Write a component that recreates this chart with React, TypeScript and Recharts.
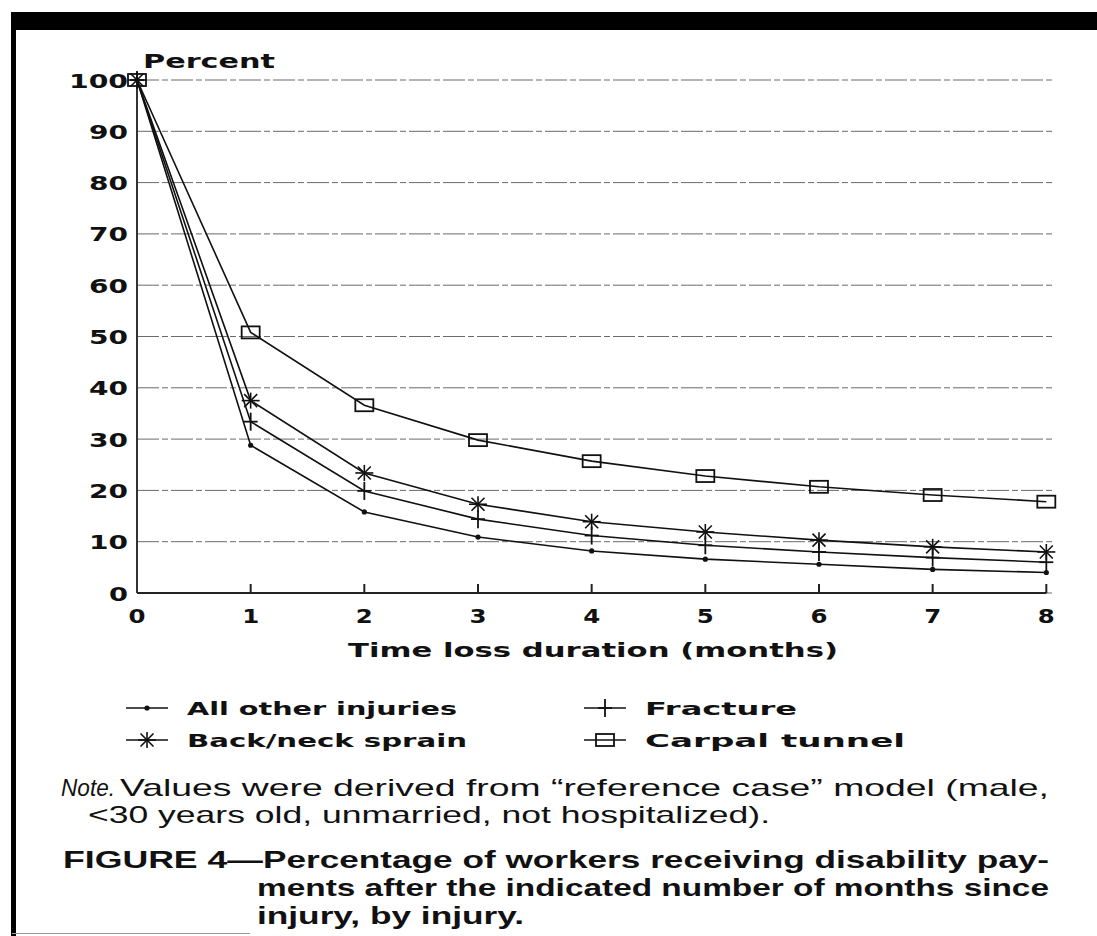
import { LineChart, Line, XAxis, YAxis, CartesianGrid, ReferenceLine } from 'recharts';

// months since injury
const months = [0, 1, 2, 3, 4, 5, 6, 7, 8];
const allOther = [100, 28.8, 15.8, 10.9, 8.2, 6.6, 5.6, 4.6, 4.0];
const fracture = [100, 33.4, 19.9, 14.4, 11.2, 9.3, 8.0, 6.9, 6.0];
const backNeck = [100, 37.5, 23.4, 17.3, 13.9, 11.9, 10.3, 9.0, 8.0];
const carpal = [100, 50.8, 36.6, 29.8, 25.7, 22.8, 20.7, 19.1, 17.8];
const yTicks = [0, 10, 20, 30, 40, 50, 60, 70, 80, 90, 100];

const data = months.map((m, i) => ({ m, allOther: allOther[i], fracture: fracture[i], backNeck: backNeck[i], carpal: carpal[i] }));

const INK = '#111';
const wide = 'DejaVu Sans, Verdana, sans-serif';
const narrow = '"Liberation Sans Narrow", "Liberation Sans", Arial, sans-serif';

type Shape = 'dot' | 'plus' | 'star' | 'square';

function Marker({ shape, cx, cy }: { shape: Shape; cx: number; cy: number }) {
  if (shape === 'dot') return <circle cx={cx} cy={cy} r={2.6} fill={INK} />;
  if (shape === 'plus') return (
    <g stroke={INK} strokeWidth={1.8}>
      <line x1={cx} y1={cy - 9} x2={cx} y2={cy + 9} />
      <line x1={cx - 7} y1={cy} x2={cx + 7} y2={cy} />
    </g>
  );
  if (shape === 'star') return (
    <g stroke={INK} strokeWidth={1.6}>
      <line x1={cx} y1={cy - 8} x2={cx} y2={cy + 8} />
      <line x1={cx - 9} y1={cy} x2={cx + 9} y2={cy} />
      <line x1={cx - 6.5} y1={cy - 6.5} x2={cx + 6.5} y2={cy + 6.5} />
      <line x1={cx - 6.5} y1={cy + 6.5} x2={cx + 6.5} y2={cy - 6.5} />
    </g>
  );
  return <rect x={cx - 9} y={cy - 6} width={18} height={12} fill="none" stroke={INK} strokeWidth={1.8} />;
}

const dotFor = (shape: Shape) => (p: any) => <Marker key={`${shape}-${p.index}`} shape={shape} cx={p.cx} cy={p.cy} />;

function YTick({ x, y, payload }: any) {
  const s = String(payload.value);
  return (
    <text x={x} y={y + 7.5} textAnchor="end" fontFamily={wide} fontWeight="bold" fontSize={20} fill={INK}
      textLength={s.length * 20 - 1} lengthAdjust="spacingAndGlyphs">{s}</text>
  );
}

function XTick({ x, y, payload }: any) {
  if (payload.value > 8) return null;
  return (
    <g>
      {payload.value > 0 && <line x1={x} y1={y - 9} x2={x} y2={y} stroke="#222" strokeWidth={2} />}
      <text x={x} y={y + 30} textAnchor="middle" fontFamily={wide} fontWeight="bold" fontSize={20} fill={INK}
        textLength={17} lengthAdjust="spacingAndGlyphs">{payload.value}</text>
    </g>
  );
}

function T({ x, y, w, size, bold, italic, font, children }: any) {
  return (
    <text x={x} y={y} fontFamily={font} fontSize={size} fontWeight={bold ? 'bold' : 'normal'} fontStyle={italic ? 'italic' : 'normal'}
      fill={INK} textLength={w} lengthAdjust="spacingAndGlyphs">{children}</text>
  );
}

const legendItems: { name: string; shape: Shape; x: number; y: number; w: number }[] = [
  { name: 'All other injuries', shape: 'dot', x: 126, y: 708, w: 270 },
  { name: 'Fracture', shape: 'plus', x: 584, y: 708, w: 152 },
  { name: 'Back/neck sprain', shape: 'star', x: 126, y: 740, w: 280 },
  { name: 'Carpal tunnel', shape: 'square', x: 584, y: 740, w: 260 },
];

export default function App() {
  return (
    <div style={{ position: 'absolute', left: 0, top: 0, width: 1097, height: 936, background: '#fff' }}>
      <LineChart width={1097} height={936} data={data} margin={{ top: 80, right: 45, bottom: 303, left: 77 }}>
        <CartesianGrid vertical={false} stroke="#6a6a6a" strokeDasharray="22 3 6 3" strokeWidth={1} />
        <XAxis dataKey="m" type="number" domain={[0, 8.05]} ticks={months} interval={0} height={40}
          axisLine={false} tickLine={false} tickSize={0} tickMargin={0} tick={<XTick />} />
        <YAxis type="number" domain={[0, 100]} ticks={yTicks} interval={0} width={60}
          axisLine={{ stroke: '#333', strokeWidth: 2 }} tickLine={false} tickSize={0} tickMargin={9} tick={<YTick />} />
        <ReferenceLine segment={[{ x: 0, y: 0 }, { x: 8, y: 0 }]} stroke="#222" strokeWidth={2} />
        <Line dataKey="allOther" stroke={INK} strokeWidth={1.6} dot={dotFor('dot')} isAnimationActive={false} />
        <Line dataKey="fracture" stroke={INK} strokeWidth={1.6} dot={dotFor('plus')} isAnimationActive={false} />
        <Line dataKey="backNeck" stroke={INK} strokeWidth={1.6} dot={dotFor('star')} isAnimationActive={false} />
        <Line dataKey="carpal" stroke={INK} strokeWidth={1.6} dot={dotFor('square')} isAnimationActive={false} />
      </LineChart>
      <svg width={1097} height={936} style={{ position: 'absolute', left: 0, top: 0, pointerEvents: 'none' }}>
        <rect x={12} y={12} width={1085} height={18} fill="#000" />
        <rect x={11} y={12} width={5} height={924} fill="#000" />
        <line x1={12} y1={933.5} x2={250} y2={933.5} stroke="#999" strokeWidth={1} />
        <T x={143} y={68} w={132} size={20} bold font={wide}>Percent</T>
        <T x={348} y={657} w={490} size={20} bold font={wide}>Time loss duration (months)</T>
        {legendItems.map((it) => (
          <g key={it.name}>
            <line x1={it.x} y1={it.y} x2={it.x + 42} y2={it.y} stroke={INK} strokeWidth={1.6} />
            <Marker shape={it.shape} cx={it.x + 21} cy={it.y} />
            <T x={it.x + 61} y={it.y + 6.5} w={it.w} size={17} bold font={wide}>{it.name}</T>
          </g>
        ))}
        <T x={61} y={796} w={54} size={24} italic font={narrow}>Note.</T>
        <T x={120} y={796} w={929} size={24} font={narrow}>Values were derived from “reference case” model (male,</T>
        <T x={88} y={823} w={682} size={24} font={narrow}>&lt;30 years old, unmarried, not hospitalized).</T>
        <T x={63} y={868} w={200} size={24} bold font={narrow}>FIGURE 4—</T>
        <T x={263} y={868} w={786} size={24} bold font={narrow}>Percentage of workers receiving disability pay-</T>
        <T x={257} y={896} w={792} size={24} bold font={narrow}>ments after the indicated number of months since</T>
        <T x={257} y={924} w={267} size={24} bold font={narrow}>injury, by injury.</T>
      </svg>
    </div>
  );
}
